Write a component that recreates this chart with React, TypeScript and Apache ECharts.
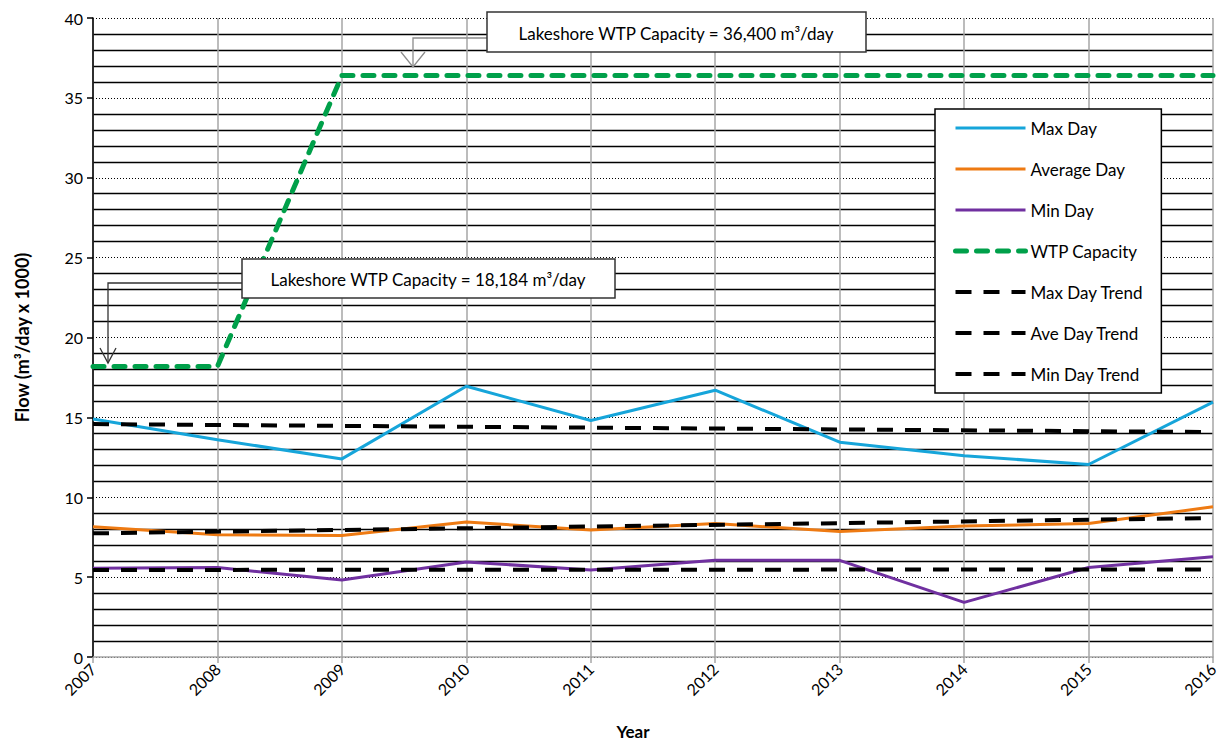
import React, { useEffect, useRef } from "react";
import * as echarts from "echarts";

const years = ["2007", "2008", "2009", "2010", "2011", "2012", "2013", "2014", "2015", "2016"];
const maxDay = [14.9, 13.6, 12.4, 16.95, 14.8, 16.7, 13.45, 12.6, 12.05, 15.95];
const aveDay = [8.15, 7.65, 7.6, 8.45, 7.95, 8.35, 7.85, 8.2, 8.35, 9.4];
const minDay = [5.55, 5.6, 4.82, 5.95, 5.45, 6.05, 6.05, 3.42, 5.6, 6.28];
const wtpCapacity = [18.184, 18.184, 36.4, 36.4, 36.4, 36.4, 36.4, 36.4, 36.4, 36.4];
const maxTrend = [14.58, null, null, null, null, null, null, null, null, 14.08];
const aveTrend = [7.74, null, null, null, null, null, null, null, null, 8.7];
const minTrend = [5.45, null, null, null, null, null, null, null, null, 5.48];
const yTicks = { min: 0, max: 40, interval: 5 };

const FONT = "Lato, 'Open Sans', sans-serif";

export default function App() {
  const ref = useRef<HTMLDivElement>(null);
  useEffect(() => {
    if (!ref.current) return;
    const chart = echarts.init(ref.current, undefined, { renderer: "svg" });
    const solid = (name: string, data: number[], color: string) => ({
      name,
      type: "line",
      data,
      symbol: "none",
      z: 3,
      lineStyle: { color, width: 3 },
      itemStyle: { color },
    });
    const trend = (name: string, data: (number | null)[]) => ({
      name,
      type: "line",
      data,
      symbol: "none",
      connectNulls: true,
      z: 5,
      lineStyle: { color: "#000", width: 4, type: [16, 12] },
      itemStyle: { color: "#000" },
    });
    chart.setOption({
      animation: false,
      textStyle: { fontFamily: FONT },
      grid: { left: 93, top: 18, right: 9, bottom: 86, containLabel: false },
      xAxis: {
        type: "category",
        data: years,
        boundaryGap: false,
        axisLine: { lineStyle: { color: "#a6a6a6", width: 1.5 } },
        axisTick: { show: true, length: 6, lineStyle: { color: "#a6a6a6", width: 1.5 } },
        axisLabel: { rotate: 45, color: "#000", fontSize: 16, margin: 9, fontFamily: FONT },
        splitLine: { show: true, lineStyle: { color: "#a6a6a6", width: 1.5 } },
      },
      yAxis: {
        type: "value",
        min: yTicks.min,
        max: yTicks.max,
        interval: yTicks.interval,
        name: "Flow (m³/day x 1000)",
        nameLocation: "middle",
        nameGap: 62,
        nameTextStyle: { fontWeight: "bold", fontSize: 18, color: "#000", fontFamily: FONT },
        axisLine: { show: true, lineStyle: { color: "#000", width: 1.5 } },
        axisTick: { show: true, length: 6, lineStyle: { color: "#000", width: 1.5 } },
        axisLabel: { color: "#000", fontSize: 16, margin: 10, fontFamily: FONT },
        splitLine: { show: true, lineStyle: { color: "#000", width: 1, type: [1, 2] } },
        minorTick: { show: false, splitNumber: 5 },
        minorSplitLine: { show: true, lineStyle: { color: "#000", width: 1.3 } },
      },
      legend: {
        orient: "vertical",
        left: 935,
        top: 109,
        padding: [10, 18, 10, 18],
        itemGap: 23,
        itemWidth: 70,
        itemHeight: 18,
        backgroundColor: "#fff",
        borderColor: "#000",
        borderWidth: 1.5,
        borderRadius: 0,
        itemStyle: { opacity: 0 },
        lineStyle: { width: "inherit" },
        textStyle: { fontSize: 17, color: "#000", fontFamily: FONT, lineHeight: 18 },
        data: ["Max Day", "Average Day", "Min Day", "WTP Capacity", "Max Day Trend", "Ave Day Trend", "Min Day Trend"],
      },
      series: [
        solid("Max Day", maxDay, "#16a5da"),
        solid("Average Day", aveDay, "#ee7a12"),
        solid("Min Day", minDay, "#7030a0"),
        {
          name: "WTP Capacity",
          type: "line",
          data: wtpCapacity,
          symbol: "none",
          z: 4,
          lineStyle: { color: "#00a04a", width: 5, type: [11, 10], cap: "round" },
          itemStyle: { color: "#00a04a" },
        },
        trend("Max Day Trend", maxTrend),
        trend("Ave Day Trend", aveTrend),
        trend("Min Day Trend", minTrend),
      ],
      graphic: [
        { type: "polyline", z: 10, shape: { points: [[487, 38], [413, 38], [413, 67]] }, style: { stroke: "#8c8c8c", lineWidth: 1.3, fill: null } },
        { type: "polyline", z: 10, shape: { points: [[401, 52], [413, 67], [425, 52]] }, style: { stroke: "#8c8c8c", lineWidth: 1.3, fill: null } },
        { type: "rect", z: 11, shape: { x: 487, y: 12, width: 379, height: 40 }, style: { fill: "#fff", stroke: "#333", lineWidth: 1.5 } },
        { type: "text", z: 12, x: 676, y: 33, style: { text: "Lakeshore WTP Capacity = 36,400 m³/day", fontSize: 17, fontFamily: FONT, fill: "#000", align: "center", verticalAlign: "middle" } },
        { type: "polyline", z: 10, shape: { points: [[242, 283], [108, 283], [108, 363]] }, style: { stroke: "#333", lineWidth: 1.3, fill: null } },
        { type: "polyline", z: 10, shape: { points: [[100, 348], [108, 363], [116, 348]] }, style: { stroke: "#333", lineWidth: 1.3, fill: null } },
        { type: "rect", z: 11, shape: { x: 242, y: 259, width: 373, height: 39 }, style: { fill: "#fff", stroke: "#333", lineWidth: 1.5 } },
        { type: "text", z: 12, x: 428, y: 279, style: { text: "Lakeshore WTP Capacity = 18,184 m³/day", fontSize: 17, fontFamily: FONT, fill: "#000", align: "center", verticalAlign: "middle" } },
        { type: "text", z: 12, x: 633, y: 731, style: { text: "Year", fontSize: 17, fontWeight: "bold", fontFamily: FONT, fill: "#000", align: "center", verticalAlign: "middle" } },
      ],
    });
    return () => chart.dispose();
  }, []);
  return (
    <div
      ref={ref}
      style={{ position: "fixed", left: 0, top: 0, width: 1222, height: 743, background: "#fff" }}
    />
  );
}
